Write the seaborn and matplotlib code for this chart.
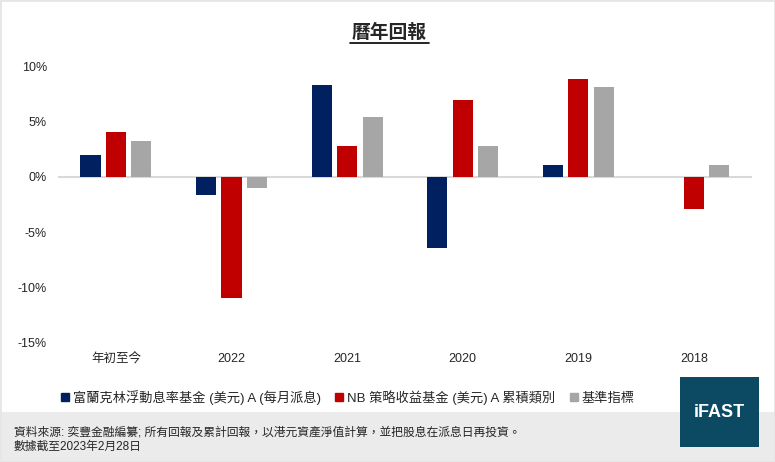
import pandas as pd
import numpy as np
import matplotlib
matplotlib.use('Agg')
import matplotlib.pyplot as plt
import seaborn as sns
from matplotlib.patches import Rectangle
from matplotlib.lines import Line2D

# data (percent)
categories = ['年初至今', '2022', '2021', '2020', '2019', '2018']
series_names = ['富蘭克林浮動息率基金 (美元) A (每月派息)',
                'NB 策略收益基金 (美元) A 累積類別',
                '基準指標']
fund_a = [2.0, -1.6, 8.3, -6.4, 1.1, np.nan]
fund_b = [4.0, -10.9, 2.75, 6.9, 8.85, -2.9]
bench = [3.2, -1.05, 5.4, 2.75, 8.1, 1.1]
colors = ['#002060', '#c00000', '#a6a6a6']
yticks = [-15, -10, -5, 0, 5, 10]

sns.set_style('white')
plt.rcParams['font.family'] = ['Liberation Sans', 'Noto Sans CJK TC', 'DejaVu Sans']

rows = []
for name, vals in zip(series_names, [fund_a, fund_b, bench]):
    for cat, v in zip(categories, vals):
        rows.append({'cat': cat, 'series': name, 'value': v})
df = pd.DataFrame(rows)

fig = plt.figure(figsize=(7.75, 4.62), dpi=100)
ax = fig.add_axes([0.075, 0.2576, 0.895, 0.5995])

sns.barplot(data=df, x='cat', y='value', hue='series', order=categories,
            hue_order=series_names, palette=colors, width=0.66, gap=0.21,
            saturation=1, linewidth=0, ax=ax, legend=False)

ax.axhline(0, color='#d9d9d9', lw=1.5, zorder=0)
ax.set_ylim(-15, 10)
ax.set_xlim(-0.5, len(categories) - 0.5)
ax.set_yticks(yticks)
ax.set_yticklabels([f'{t}%' for t in yticks])
ax.set_xlabel('')
ax.set_ylabel('')
ax.tick_params(axis='y', length=0, pad=8, labelsize=9)
ax.tick_params(axis='x', length=0, pad=7, labelsize=9)
for s in ax.spines.values():
    s.set_visible(False)
ax.grid(False)

# title with underline
fig.text(0.502, 0.929, '曆年回報', ha='center', va='center', fontsize=13.5,
         fontweight='bold')
fig.add_artist(Line2D([0.451, 0.553], [0.907, 0.907], color='black', lw=1.2,
                      transform=fig.transFigure))

# legend
handles = [Line2D([], [], marker='s', linestyle='none', markersize=6,
                  markerfacecolor=c, markeredgecolor=c) for c in colors]
fig.legend(handles, series_names, loc='center', bbox_to_anchor=(0.447, 0.14),
           ncol=3, frameon=False, fontsize=9.5, handletextpad=0.1,
           columnspacing=0.9, handlelength=1.0)

# footer band
fig.add_artist(Rectangle((0, 0), 1, 0.108, transform=fig.transFigure,
                         facecolor='#ebebeb', edgecolor='none', zorder=0))
fig.text(0.018, 0.064, '資料來源: 奕豐金融編纂; 所有回報及累計回報，以港元資產淨值計算，並把股息在派息日再投資。',
         fontsize=8.5, va='center')
fig.text(0.018, 0.034, '數據截至2023年2月28日', fontsize=8.5, va='center')

# logo box
fig.add_artist(Rectangle((0.877, 0.032), 0.102, 0.152, transform=fig.transFigure,
                         facecolor='#0b4a62', edgecolor='none', zorder=2))
fig.text(0.928, 0.108, 'iFAST', color='white', fontsize=13, fontweight='bold',
         ha='center', va='center', zorder=3)

# outer frame
fig.add_artist(Rectangle((0, 0), 1, 1, transform=fig.transFigure,
                         facecolor='none', edgecolor='#e6e6e6', lw=2))

fig.savefig('out.png', dpi=100)
